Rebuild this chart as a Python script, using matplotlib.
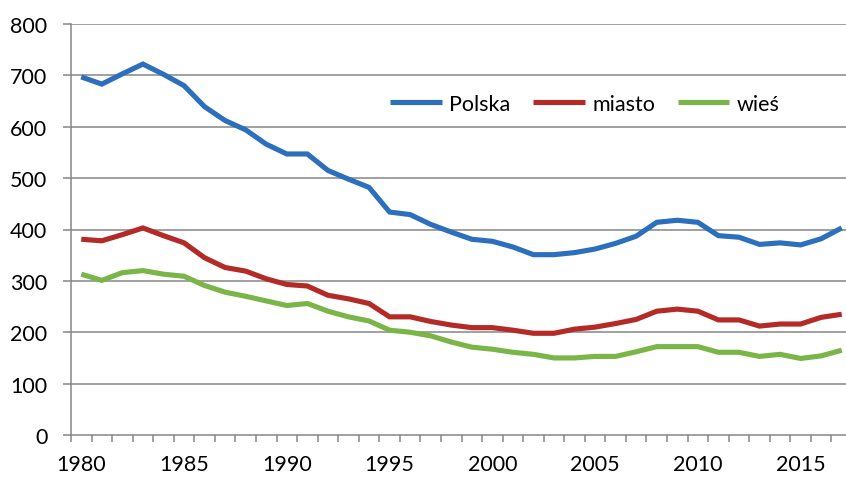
import matplotlib
matplotlib.use("Agg")
import matplotlib.pyplot as plt
import numpy as np

years = list(range(1980, 2018))
polska = [697, 683, 703, 722, 702, 680, 639, 612, 594, 566, 547, 547, 515, 498, 482,
          434, 429, 410, 395, 381, 377, 366, 351, 351, 355, 362, 373, 387, 414, 418,
          414, 388, 385, 371, 374, 370, 382, 403]
miasto = [381, 378, 390, 403, 388, 374, 345, 326, 319, 304, 293, 290, 272, 265, 256,
          230, 230, 221, 214, 209, 209, 204, 198, 198, 206, 210, 217, 225, 241, 245,
          241, 224, 224, 212, 216, 216, 229, 235]
wies = [313, 301, 316, 320, 313, 309, 291, 278, 270, 261, 252, 256, 241, 230, 222,
        204, 200, 193, 181, 171, 167, 161, 157, 150, 150, 153, 153, 162, 172, 172,
        172, 161, 161, 153, 157, 149, 154, 165]
labels = ["Polska", "miasto", "wieś"]
colors = ["#2c6fbc", "#b42a27", "#7ab547"]
yticks = [0, 100, 200, 300, 400, 500, 600, 700, 800]
xlabel_years = [1980, 1985, 1990, 1995, 2000, 2005, 2010, 2015]

plt.rcParams['font.family'] = ['Lato', 'DejaVu Sans']

W, H = 846, 485
fig = plt.figure(figsize=(W / 100, H / 100), dpi=100)
ax = fig.add_axes([71 / W, (H - 436) / H, 781 / W, 411 / H])

x = np.arange(len(years))
for series, lab, col in zip([polska, miasto, wies], labels, colors):
    ax.plot(x, series, color=col, lw=3.7, label=lab, solid_joinstyle='miter',
            solid_capstyle='butt', zorder=3)

grid_col = "#868686"
ax.set_xlim(-0.5, len(years) - 0.5)
ax.set_ylim(0, 800)
ax.set_yticks(yticks)
ax.set_yticklabels([str(v) for v in yticks])
for v in yticks[1:]:
    ax.axhline(v, color=grid_col, lw=1.1, zorder=1)

ax.set_xticks([years.index(y) for y in xlabel_years])
ax.set_xticklabels([str(y) for y in xlabel_years])
ax.set_xticks(np.arange(-0.5, len(years), 1.0), minor=True)

for s in ['top', 'right']:
    ax.spines[s].set_visible(False)
for s in ['left', 'bottom']:
    ax.spines[s].set_color(grid_col)
    ax.spines[s].set_linewidth(1.1)

ax.tick_params(axis='y', length=6, width=1.1, color=grid_col, pad=11,
               labelsize=15.5, labelcolor='black')
ax.tick_params(axis='x', which='major', length=0, pad=14, labelsize=15.5,
               labelcolor='black')
ax.tick_params(axis='x', which='minor', length=5, width=1.1, color=grid_col,
               direction='out')

leg = fig.legend(loc='center left', bbox_to_anchor=(390 / W, 1 - 105 / H),
                 ncol=3, frameon=False, fontsize=15.5, handlelength=2.4,
                 handletextpad=0.35, columnspacing=1.05, borderpad=0,
                 borderaxespad=0)

fig.savefig("out.png", dpi=100)
